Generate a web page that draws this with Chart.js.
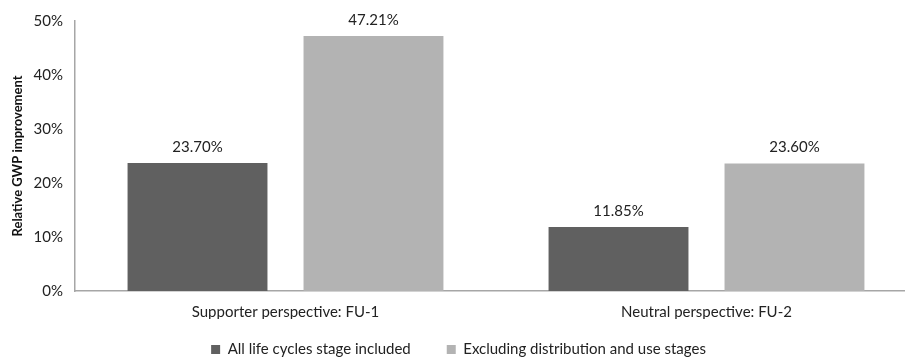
<!DOCTYPE html>
<html>
<head>
<meta charset="utf-8">
<script src="https://cdn.jsdelivr.net/npm/chart.js@4.4.1/dist/chart.umd.min.js"></script>
<style>
  html, body { margin: 0; padding: 0; background: #fff; overflow: hidden; }
  #wrap { width: 905px; height: 361px; overflow: hidden; position: relative; }
  canvas { display: block; }
</style>
</head>
<body>
<div id="wrap"><canvas id="c" width="920" height="380"></canvas></div>
<script>
// Chart data
const categories = ['Supporter perspective: FU-1', 'Neutral perspective: FU-2'];
const seriesNames = ['All life cycles stage included', 'Excluding distribution and use stages'];
const allStages = [23.70, 11.85];
const excludingUse = [47.21, 23.60];
const yTicks = [0, 10, 20, 30, 40, 50];

const FONT = 'Lato, "Open Sans", sans-serif';

// Writes the value above each bar
const valueLabels = {
  id: 'valueLabels',
  afterDatasetsDraw(chart) {
    const ctx = chart.ctx;
    ctx.save();
    ctx.font = '15px ' + FONT;
    ctx.fillStyle = '#222';
    ctx.textAlign = 'center';
    ctx.textBaseline = 'middle';
    chart.data.datasets.forEach((ds, i) => {
      chart.getDatasetMeta(i).data.forEach((bar, j) => {
        ctx.fillText(ds.data[j].toFixed(2) + '%', bar.x, bar.y - 16);
      });
    });
    ctx.restore();
  }
};

// Pulls the legend row up closer to the category labels,
// keeping the wide spacing between the two legend items
const legendLift = {
  id: 'legendLift',
  afterLayout(chart) {
    const lg = chart.legend;
    if (!lg) return;
    lg.top -= 13;
    lg.bottom -= 13;
  }
};

new Chart(document.getElementById('c'), {
  type: 'bar',
  data: {
    labels: categories,
    datasets: [
      { label: seriesNames[0], data: allStages, backgroundColor: '#606060' },
      { label: seriesNames[1], data: excludingUse, backgroundColor: '#b3b3b3' }
    ]
  },
  options: {
    responsive: false,
    animation: false,
    categoryPercentage: 0.836,
    barPercentage: 0.795,
    layout: { padding: { top: 16, left: 0, right: 3, bottom: 0 } },
    plugins: {
      legend: {
        position: 'bottom',
        labels: {
          font: { family: FONT, size: 15 },
          color: '#222',
          boxWidth: 9,
          boxHeight: 9,
          padding: 36
        }
      },
      tooltip: { enabled: false }
    },
    scales: {
      x: {
        grid: { display: false, drawTicks: false },
        border: { color: '#a6a6a6', width: 1.5 },
        ticks: { font: { family: FONT, size: 15 }, color: '#222', padding: 12 },
        afterFit(scale) { scale.height = 28; }
      },
      y: {
        min: 0,
        max: 50,
        afterBuildTicks(scale) { scale.ticks = yTicks.map(v => ({ value: v })); },
        grid: { display: false, drawTicks: false },
        border: { color: '#a6a6a6', width: 1.5 },
        ticks: {
          font: { family: FONT, size: 15 },
          color: '#222',
          padding: 12,
          callback: v => v + '%'
        },
        title: {
          display: true,
          text: 'Relative GWP improvement',
          font: { family: FONT, size: 13, weight: 'bold' },
          color: '#111',
          padding: { top: 10, bottom: 6 }
        },
        afterFit(scale) { scale.width = 75; }
      }
    }
  },
  plugins: [valueLabels, legendLift]
});
</script>
</body>
</html>
